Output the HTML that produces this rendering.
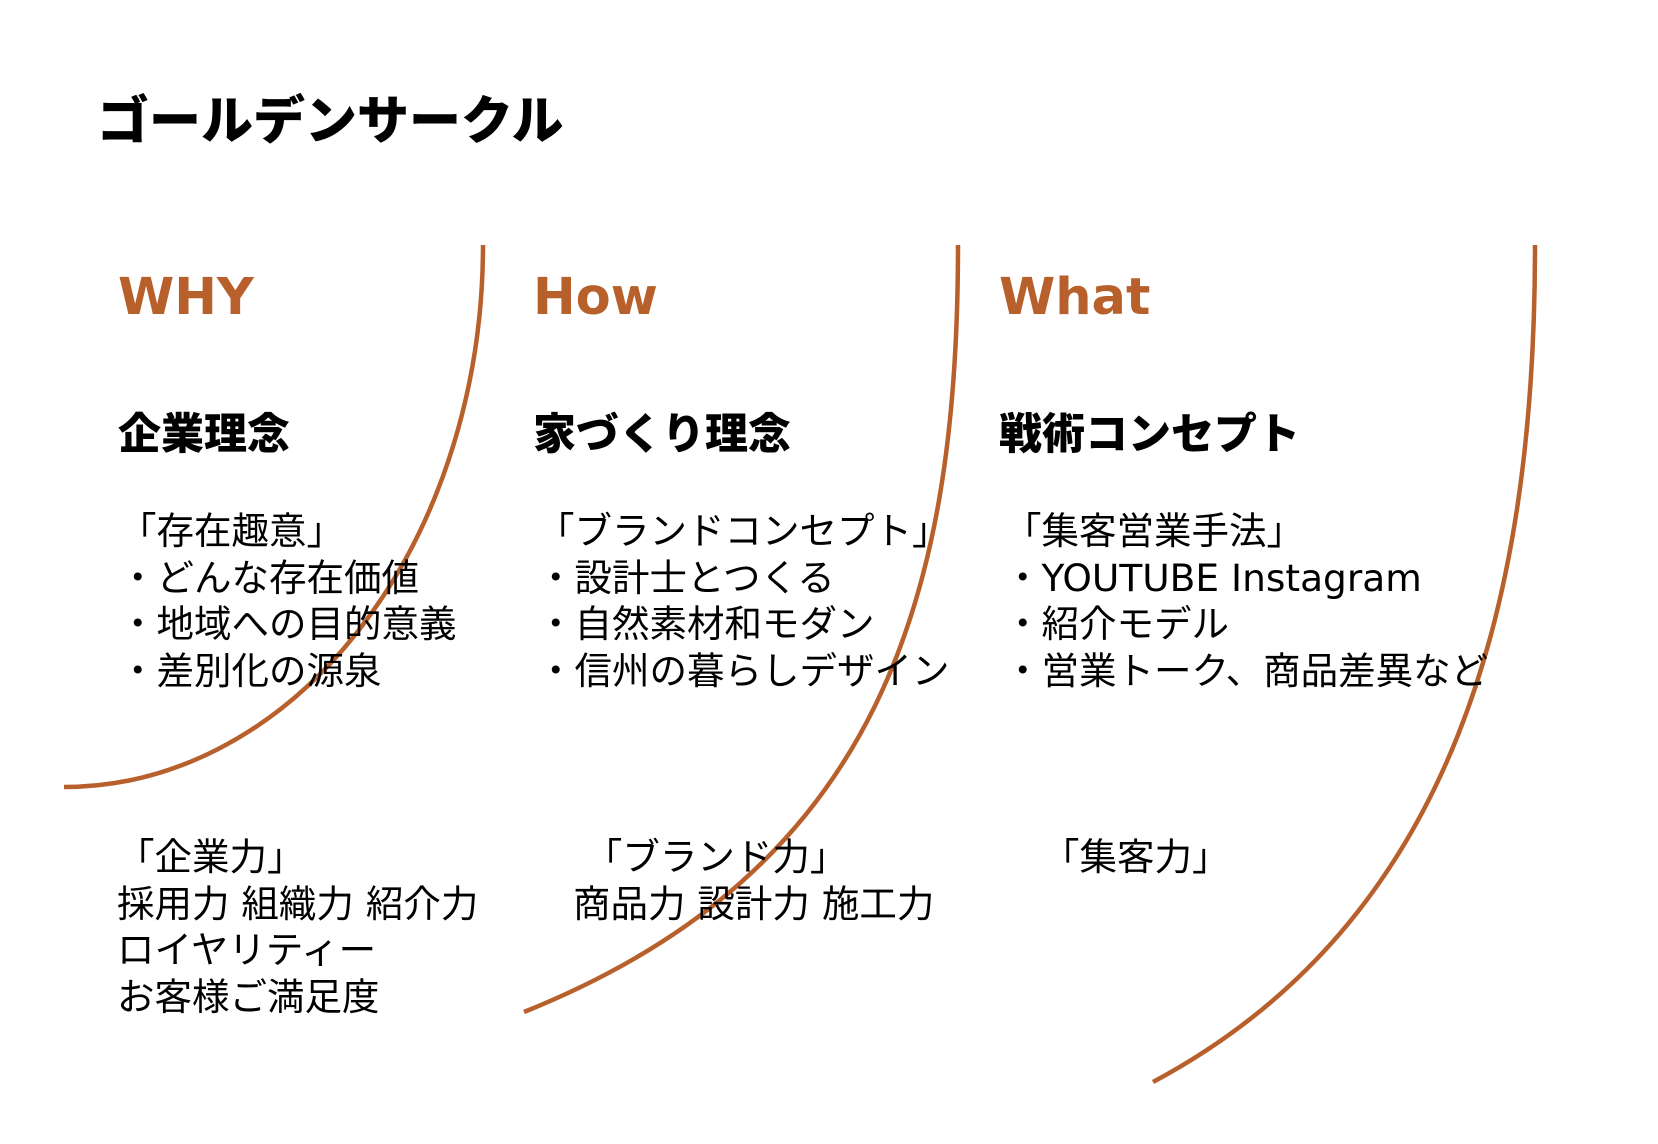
<!DOCTYPE html>
<html><head><meta charset="utf-8"><style>
html,body{margin:0;padding:0;background:#fff;}
body{width:1658px;height:1144px;position:relative;overflow:hidden;font-family:"DejaVu Sans","Noto Sans CJK JP",sans-serif;color:#000;}
.a{position:absolute;white-space:nowrap;}
.t{font-family:"Noto Sans CJK JP",sans-serif;font-weight:900;font-size:52px;line-height:60px;}
.h{font-family:"DejaVu Sans",sans-serif;font-weight:bold;font-size:51px;line-height:60px;color:#B8602C;}
.s{font-family:"Noto Sans CJK JP",sans-serif;font-weight:900;font-size:43px;line-height:50px;}
.b{font-family:"DejaVu Sans","Noto Sans CJK JP",sans-serif;font-size:37.5px;line-height:46.5px;}
svg{position:absolute;left:0;top:0;}
</style></head><body>
<svg width="1658" height="1144">
<g fill="none" stroke="#B8602C" stroke-width="4.5">
<path d="M483 245 A419 542 0 0 1 64 787"/>
<path d="M958 245 C958 600, 878 870, 524 1012"/>
<path d="M1535 245 C1535 600, 1456 920, 1153 1082"/>
</g>
</svg>
<div class="a t" style="left:97px;top:87px;">ゴールデンサークル</div>
<div class="a h" style="left:118px;top:268px;">WHY</div>
<div class="a h" style="left:533px;top:268px;">How</div>
<div class="a h" style="left:999px;top:268px;">What</div>
<div class="a s" style="left:118px;top:406px;">企業理念</div>
<div class="a s" style="left:533px;top:406px;">家づくり理念</div>
<div class="a s" style="left:999px;top:406px;">戦術コンセプト</div>
<div class="a b" style="left:119px;top:508px;">「存在趣意」<br>・どんな存在価値<br>・地域への目的意義<br>・差別化の源泉</div>
<div class="a b" style="left:537px;top:508px;">「ブランドコンセプト」<br>・設計士とつくる<br>・自然素材和モダン<br>・信州の暮らしデザイン</div>
<div class="a b" style="left:1004px;top:508px;">「集客営業手法」<br>・YOUTUBE Instagram<br>・紹介モデル<br>・営業トーク、商品差異など</div>
<div class="a b" style="left:117px;top:834px;">「企業力」<br>採用力 組織力 紹介力<br>ロイヤリティー<br>お客様ご満足度</div>
<div class="a b" style="left:573px;top:834px;">&nbsp;「ブランド力」<br>商品力 設計力 施工力</div>
<div class="a b" style="left:1042px;top:834px;">「集客力」</div>
</body></html>
